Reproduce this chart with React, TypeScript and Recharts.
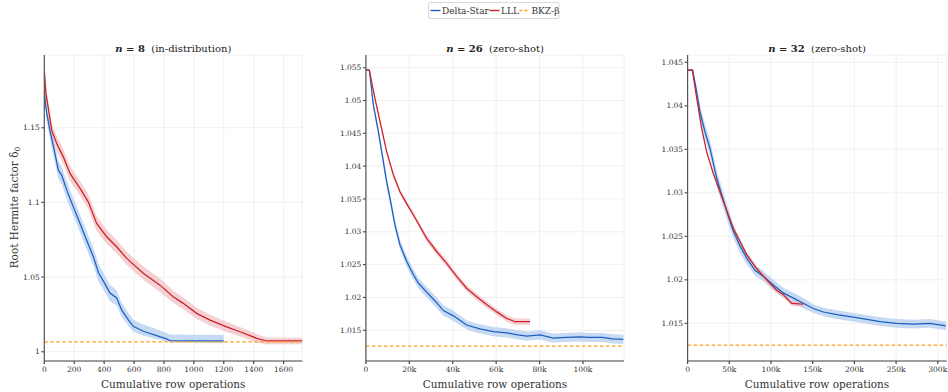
import React from 'react';
import { ComposedChart, Line, Area, XAxis, YAxis, CartesianGrid, ReferenceLine } from 'recharts';

const FONT = '"DejaVu Serif", serif';
const BLUE = '#1b5fc4';
const RED = '#cc2027';
const ORANGE = '#ff9c1a';
const BLUE_FILL = '#a9c6ec';
const RED_FILL = '#efb3b8';

// ---------- n = 8 ----------
const n8StarX = [0, 8, 16, 38, 60, 94, 116, 150, 194, 239, 283, 328, 363, 396, 439, 484, 517, 562, 595, 662, 751, 818, 840, 1000, 1199];
const n8StarY = [1.175, 1.166, 1.16, 1.148, 1.138, 1.1216, 1.1183, 1.1082, 1.097, 1.0859, 1.0747, 1.0636, 1.0527, 1.0471, 1.0393, 1.036, 1.028, 1.0214, 1.017, 1.0137, 1.0108, 1.0086, 1.0075, 1.0073, 1.0072];
const n8StarUp = [0.002, 0.004, 0.005, 0.006, 0.006, 0.006, 0.006, 0.006, 0.006, 0.006, 0.006, 0.006, 0.006, 0.0055, 0.0055, 0.005, 0.005, 0.0045, 0.0045, 0.0045, 0.0042, 0.004, 0.004, 0.004, 0.004];
const n8StarDown = [0.002, 0.004, 0.005, 0.006, 0.006, 0.006, 0.006, 0.006, 0.006, 0.006, 0.006, 0.006, 0.006, 0.0055, 0.0055, 0.005, 0.0045, 0.004, 0.0035, 0.003, 0.0022, 0.0016, 0.0013, 0.0013, 0.0013];
const n8LllX = [0, 11, 38, 49, 83, 127, 172, 239, 294, 350, 417, 484, 551, 662, 773, 862, 929, 1019, 1108, 1219, 1308, 1420, 1487, 1725];
const n8LllY = [1.1885, 1.173, 1.156, 1.1484, 1.1395, 1.1305, 1.1194, 1.1094, 1.1004, 1.0859, 1.077, 1.0703, 1.0625, 1.0525, 1.0446, 1.0368, 1.0324, 1.0257, 1.0212, 1.0167, 1.0134, 1.009, 1.0072, 1.0072];
const n8LllSpread = [0.002, 0.005, 0.005, 0.005, 0.005, 0.005, 0.005, 0.005, 0.005, 0.005, 0.0048, 0.0046, 0.0045, 0.0045, 0.0044, 0.0042, 0.004, 0.0038, 0.0036, 0.0034, 0.0031, 0.0028, 0.0024, 0.0022];

// ---------- n = 26 ----------
const n26StarX = [0, 1600, 3430, 5730, 8030, 9570, 11100, 13410, 15710, 18780, 21850, 24150, 28000, 32600, 35700, 40300, 46400, 52500, 58700, 64900, 70000, 74100, 80200, 86400, 92000, 98600, 103000, 109000, 113600, 118600];
const n26StarY = [1.0547, 1.0546, 1.0493, 1.0453, 1.0407, 1.0376, 1.0351, 1.031, 1.028, 1.0255, 1.0235, 1.0222, 1.0208, 1.0192, 1.018, 1.0172, 1.0158, 1.0152, 1.0148, 1.0146, 1.0143, 1.0141, 1.0143, 1.0138, 1.0139, 1.014, 1.0139, 1.0139, 1.0137, 1.0136];
const n26StarSpread = [0, 0.0002, 0.0005, 0.0007, 0.0008, 0.0008, 0.0008, 0.0008, 0.0008, 0.0008, 0.0008, 0.0008, 0.0008, 0.0008, 0.0008, 0.0008, 0.0007, 0.0007, 0.0007, 0.0007, 0.0007, 0.0007, 0.0007, 0.0007, 0.0007, 0.0007, 0.0007, 0.0007, 0.0007, 0.0007];
const n26LllX = [0, 1580, 4200, 6500, 9570, 12640, 15710, 18780, 21850, 24920, 27990, 32600, 37200, 41800, 46400, 51000, 55700, 60300, 64900, 68700, 75600];
const n26LllY = [1.0547, 1.0546, 1.0503, 1.0468, 1.0422, 1.0387, 1.0361, 1.0343, 1.0326, 1.0308, 1.029, 1.027, 1.0252, 1.0232, 1.0214, 1.0201, 1.0189, 1.0178, 1.0168, 1.0163, 1.0163];
const n26LllSpread = [0, 0.0001, 0.0002, 0.0003, 0.0003, 0.0004, 0.0004, 0.0004, 0.0004, 0.0004, 0.0005, 0.0005, 0.0005, 0.0005, 0.0005, 0.0005, 0.0005, 0.0005, 0.0005, 0.0005, 0.0005];

// ---------- n = 32 ----------
const n32StarX = [0, 6070, 10870, 14870, 20860, 26870, 34860, 40850, 48850, 54840, 62830, 70820, 80800, 90800, 102800, 114800, 126800, 138800, 150800, 162800, 178800, 198700, 218700, 230700, 250700, 270600, 290600, 309800];
const n32StarY = [1.0441, 1.0441, 1.0416, 1.0393, 1.037, 1.0351, 1.0317, 1.0298, 1.0273, 1.0256, 1.0239, 1.0225, 1.0211, 1.0204, 1.0194, 1.0185, 1.0179, 1.0173, 1.0167, 1.0163, 1.016, 1.0157, 1.0154, 1.0152, 1.015, 1.0149, 1.015, 1.0147];
const n32StarSpread = [0, 0.0001, 0.0006, 0.0008, 0.0009, 0.0009, 0.0009, 0.0009, 0.0009, 0.0008, 0.0008, 0.0007, 0.0006, 0.0006, 0.0006, 0.0006, 0.0006, 0.0006, 0.0005, 0.0005, 0.0005, 0.0005, 0.0005, 0.0005, 0.0005, 0.0005, 0.0005, 0.0005];
const n32LllX = [0, 5670, 10870, 16870, 22870, 30860, 38860, 46850, 54840, 62830, 70820, 82800, 94800, 106800, 114800, 124800, 138800];
const n32LllY = [1.0441, 1.0441, 1.0409, 1.0374, 1.0347, 1.0322, 1.0301, 1.028, 1.0259, 1.0244, 1.0229, 1.0213, 1.02, 1.0188, 1.0183, 1.0173, 1.0172];
const n32LllSpread = [0, 0.0001, 0.0002, 0.0002, 0.0002, 0.0003, 0.0003, 0.0003, 0.0003, 0.0003, 0.0003, 0.0003, 0.0003, 0.0003, 0.0003, 0.0003, 0.0003];

// ---------- reference / ticks ----------
const bkzValues = [1.0066, 1.0126, 1.0125];
const panelTitlesBold = ['8', '26', '32'];
const panelTitlesNote = ['(in-distribution)', '(zero-shot)', '(zero-shot)'];

const n8XTicks = [0, 200, 400, 600, 800, 1000, 1200, 1400, 1600];
const n8XLabels = ['0', '200', '400', '600', '800', '1000', '1200', '1400', '1600'];
const n26XTicks = [0, 20000, 40000, 60000, 80000, 100000];
const n26XLabels = ['0', '20k', '40k', '60k', '80k', '100k'];
const n32XTicks = [0, 50000, 100000, 150000, 200000, 250000, 300000];
const n32XLabels = ['0', '50k', '100k', '150k', '200k', '250k', '300k'];

const n8YTicks = [1, 1.05, 1.1, 1.15];
const n8YLabels = ['1', '1.05', '1.1', '1.15'];
const n26YTicks = [1.015, 1.02, 1.025, 1.03, 1.035, 1.04, 1.045, 1.05, 1.055];
const n26YLabels = ['1.015', '1.02', '1.025', '1.03', '1.035', '1.04', '1.045', '1.05', '1.055'];
const n32YTicks = [1.015, 1.02, 1.025, 1.03, 1.035, 1.04, 1.045];
const n32YLabels = ['1.015', '1.02', '1.025', '1.03', '1.035', '1.04', '1.045'];

const legendNames = ['Delta-Star', 'LLL', 'BKZ-\u03b2'];

function build(xs: number[], ys: number[], up: number[], down: number[]) {
  return xs.map((x, i) => ({ x, y: ys[i], band: [ys[i] - down[i], ys[i] + up[i]] }));
}

type PanelCfg = {
  left: number;
  width: number;
  yAxisWidth: number;
  rightMargin: number;
  xDomain: [number, number];
  yDomain: [number, number];
  xTicks: number[];
  xLabels: string[];
  yTicks: number[];
  yLabels: string[];
  star: any[];
  lll: any[];
  bkz: number;
};

const panels: PanelCfg[] = [
  {
    left: 0, width: 310, yAxisWidth: 44.3, rightMargin: 7.7,
    xDomain: [0, 1725], yDomain: [0.9938, 1.1987],
    xTicks: n8XTicks, xLabels: n8XLabels, yTicks: n8YTicks, yLabels: n8YLabels,
    star: build(n8StarX, n8StarY, n8StarUp, n8StarDown),
    lll: build(n8LllX, n8LllY, n8LllSpread, n8LllSpread),
    bkz: bkzValues[0],
  },
  {
    left: 320, width: 310, yAxisWidth: 45.9, rightMargin: 6,
    xDomain: [0, 118900], yDomain: [1.01032, 1.05693],
    xTicks: n26XTicks, xLabels: n26XLabels, yTicks: n26YTicks, yLabels: n26YLabels,
    star: build(n26StarX, n26StarY, n26StarSpread, n26StarSpread),
    lll: build(n26LllX, n26LllY, n26LllSpread, n26LllSpread),
    bkz: bkzValues[1],
  },
  {
    left: 640, width: 308, yAxisWidth: 47.6, rightMargin: 1.3,
    xDomain: [0, 310700], yDomain: [1.01067, 1.04584],
    xTicks: n32XTicks, xLabels: n32XLabels, yTicks: n32YTicks, yLabels: n32YLabels,
    star: build(n32StarX, n32StarY, n32StarSpread, n32StarSpread),
    lll: build(n32LllX, n32LllY, n32LllSpread, n32LllSpread),
    bkz: bkzValues[2],
  },
];

const tickStyle = { fontSize: 7.5, fill: '#333', fontFamily: FONT };

function Panel({ cfg }: { cfg: PanelCfg }) {
  return (
    <div style={{ position: 'absolute', left: cfg.left, top: 0 }}>
      <ComposedChart
        width={cfg.width}
        height={392}
        margin={{ top: 55, right: cfg.rightMargin, bottom: 0, left: 0 }}
      >
        <CartesianGrid stroke="#ececec" strokeWidth={0.8} />
        <XAxis
          type="number"
          dataKey="x"
          domain={cfg.xDomain}
          ticks={cfg.xTicks}
          tickFormatter={(v: number) => cfg.xLabels[cfg.xTicks.indexOf(v)] ?? String(v)}
          allowDataOverflow
          height={31}
          tickSize={3}
          tickMargin={2.5}
          tick={tickStyle}
          stroke="#444"
          strokeWidth={1.2}
          interval={0}
        />
        <YAxis
          type="number"
          domain={cfg.yDomain}
          ticks={cfg.yTicks}
          tickFormatter={(v: number) => cfg.yLabels[cfg.yTicks.indexOf(v)] ?? String(v)}
          allowDataOverflow
          width={cfg.yAxisWidth}
          tickSize={3}
          tickMargin={1.5}
          tick={tickStyle}
          stroke="#555"
          strokeWidth={1.2}
          interval={0}
        />
        <Area data={cfg.star} dataKey="band" type="linear" stroke="none" fill={BLUE_FILL} fillOpacity={0.65} isAnimationActive={false} activeDot={false} />
        <Area data={cfg.lll} dataKey="band" type="linear" stroke="none" fill={RED_FILL} fillOpacity={0.6} isAnimationActive={false} activeDot={false} />
        <Line data={cfg.star} dataKey="y" type="linear" stroke={BLUE} strokeWidth={1.25} dot={false} activeDot={false} isAnimationActive={false} />
        <Line data={cfg.lll} dataKey="y" type="linear" stroke={RED} strokeWidth={1.25} dot={false} activeDot={false} isAnimationActive={false} />
        <ReferenceLine y={cfg.bkz} stroke={ORANGE} strokeWidth={1.2} strokeDasharray="3.5 2.5" />
      </ComposedChart>
    </div>
  );
}

const plotCenters = [173.3, 495, 817];

export default function App() {
  return (
    <div style={{ position: 'absolute', left: 0, top: 0, width: 948, height: 392, overflow: 'hidden', background: '#fff' }}>
      {panels.map((p, i) => (
        <Panel key={i} cfg={p} />
      ))}
      <svg width={948} height={392} style={{ position: 'absolute', left: 0, top: 0, pointerEvents: 'none' }} fontFamily={FONT}>
        {/* legend */}
        <rect x={428.5} y={2.5} width={130.5} height={16} fill="#fff" stroke="#cfcfcf" strokeWidth={0.8} rx={1.5} />
        <line x1={430.5} y1={10.5} x2={440.5} y2={10.5} stroke={BLUE} strokeWidth={1.4} />
        <text x={442} y={14} fontSize={9} fill="#333">{legendNames[0]}</text>
        <line x1={489.5} y1={10.5} x2={499.5} y2={10.5} stroke={RED} strokeWidth={1.4} />
        <text x={501} y={14} fontSize={9} fill="#333">{legendNames[1]}</text>
        <line x1={519.5} y1={10.5} x2={529.5} y2={10.5} stroke={ORANGE} strokeWidth={1.3} strokeDasharray="3 2" />
        <text x={531.5} y={14} fontSize={9} fill="#333">{legendNames[2]}</text>

        {/* titles */}
        {plotCenters.map((cx, i) => (
          <text key={i} x={cx} y={51.5} textAnchor="middle" fontSize={10} fill="#222">
            <tspan fontWeight="bold" fontStyle="italic">n</tspan>
            <tspan fontWeight="bold">{' = ' + panelTitlesBold[i]}</tspan>
            <tspan>{'\u00a0\u00a0' + panelTitlesNote[i]}</tspan>
          </text>
        ))}

        {/* x labels */}
        {plotCenters.map((cx, i) => (
          <text key={'xl' + i} x={cx} y={388} textAnchor="middle" fontSize={10.5} fill="#333">
            Cumulative row operations
          </text>
        ))}

        {/* y label */}
        <text x={0} y={0} transform="translate(17.5, 207.5) rotate(-90)" textAnchor="middle" fontSize={10.5} fill="#333">
          Root Hermite factor δ<tspan fontSize={7.5} dy={2.5}>0</tspan>
        </text>
      </svg>
    </div>
  );
}
